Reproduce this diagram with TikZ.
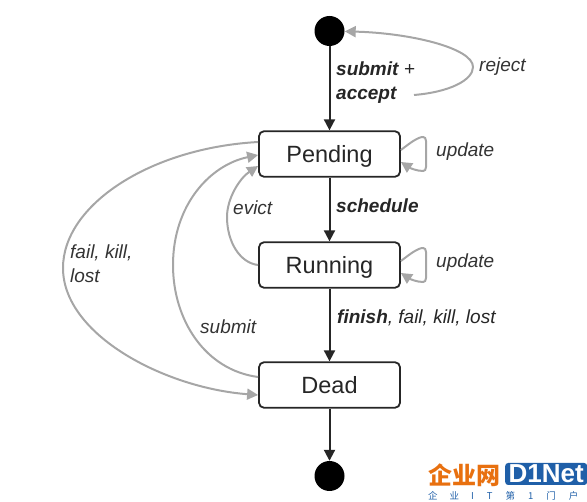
\documentclass[tikz,border=0pt]{standalone}
\usepackage{fontspec}
\setmainfont{Liberation Sans}
\newfontfamily\cjkfont{Noto Sans CJK SC}
\usetikzlibrary{arrows.meta}
\definecolor{edgegray}{HTML}{A6A6A6}
\definecolor{netblue}{HTML}{1F5FA8}
\definecolor{netorange}{HTML}{E8700F}
\tikzset{
  statebox/.style={draw=black!85,line width=1.8pt,rounded corners=5pt,fill=white,minimum width=141pt,minimum height=45.5pt,font=\fontsize{23.5}{25}\selectfont,text=black!85,inner sep=0pt,text height=16.5pt,text depth=0pt},
  terminal/.style={circle,fill=black,minimum size=30pt,inner sep=0pt},
  main/.style={draw=black!85,line width=2pt,-{Triangle[length=11pt,width=11pt]}},
  side/.style={draw=edgegray,line width=2pt,-{Triangle[length=11pt,width=11pt]}},
  lab/.style={font=\fontsize{19}{24}\selectfont\itshape,text=black!80,align=left,inner sep=0pt},
  blab/.style={font=\fontsize{19}{24}\selectfont\itshape,text=black!85,align=left,inner sep=0pt}
}
\begin{document}
\begin{tikzpicture}[x=1pt,y=-1pt]
\useasboundingbox (0,0) rectangle (587,502);
\node[terminal] (start) at (329.5,31) {};
\node[terminal] (end) at (329.5,476) {};
\node[statebox] (pending) at (329.5,154) {Pending};
\node[statebox] (running) at (329.5,265) {Running};
\node[statebox] (dead) at (329.5,385) {Dead};
\coordinate (rejectstart) at (414,95);
% main edges
\draw[main] (start) -- (pending);
\draw[main] (pending) -- (running);
\draw[main] (running) -- (dead);
\draw[main] (dead) -- (end);
% gray edges
\draw[side] (rejectstart) .. controls (450,92) and (473,80) .. (473,67) .. controls (473,48) and (410,33) .. (start);
\draw[side] ([yshift=4pt]pending.east) .. controls (410,143) and (418,137) .. (423,137) .. controls (427,137) and (426,142) .. (426,154) .. controls (426,166) and (427,171) .. (423,171) .. controls (417,171) and (410,168) .. ([yshift=-8pt]pending.east);
\draw[side] ([yshift=4pt]running.east) .. controls (410,254) and (418,248) .. (423,248) .. controls (427,248) and (426,253) .. (426,265) .. controls (426,277) and (427,282) .. (423,282) .. controls (417,282) and (410,279) .. ([yshift=-8pt]running.east);
\draw[side] ([yshift=12pt]pending.west) .. controls (150,148) and (63,205) .. (63,268) .. controls (63,335) and (165,388) .. ([yshift=-10pt]dead.west);
\draw[side] ([yshift=8pt]dead.west) .. controls (205,370) and (173,320) .. (173,265) .. controls (173,205) and (210,165) .. ([yshift=-1pt]pending.west);
\draw[side] (running.west) .. controls (240,263) and (227,242) .. (227,217) .. controls (227,198) and (240,178) .. ([yshift=-12pt]pending.west);
% labels
\node[blab,anchor=west] at (336,82.5) {\textbf{submit} +\\\textbf{accept}};
\node[lab,anchor=west] at (479,67) {reject};
\node[lab,anchor=west] at (436,152) {update};
\node[blab,anchor=west] at (336,206) {\textbf{schedule}};
\node[lab,anchor=west] at (233,208) {evict};
\node[lab,anchor=west] at (436,263) {update};
\node[blab,anchor=west] at (337,318) {\textbf{finish}, fail, kill, lost};
\node[lab,anchor=west] at (70,264) {fail, kill,\\lost};
\node[lab,anchor=west] at (200,327) {submit};
% watermark
\node[anchor=west,inner sep=0pt,text=netorange,font=\cjkfont\bfseries\fontsize{24}{24}\selectfont] (wmcn) at (428,475) {企业网};
\node[anchor=west,inner sep=1pt,fill=netblue,text=white,rounded corners=3pt,font=\bfseries\fontsize{26}{26}\selectfont,minimum height=22pt,minimum width=82pt] (wmen) at (505,474) {D1Net};
\node[anchor=west,inner sep=0pt,text=netblue,font=\cjkfont\fontsize{9.5}{10}\selectfont] (wmsub) at (428,496) {企\hspace{12pt}业\hspace{12pt}I\hspace{13pt}T\hspace{13pt}第\hspace{13pt}1\hspace{13pt}门\hspace{13pt}户};
\end{tikzpicture}
\end{document}
